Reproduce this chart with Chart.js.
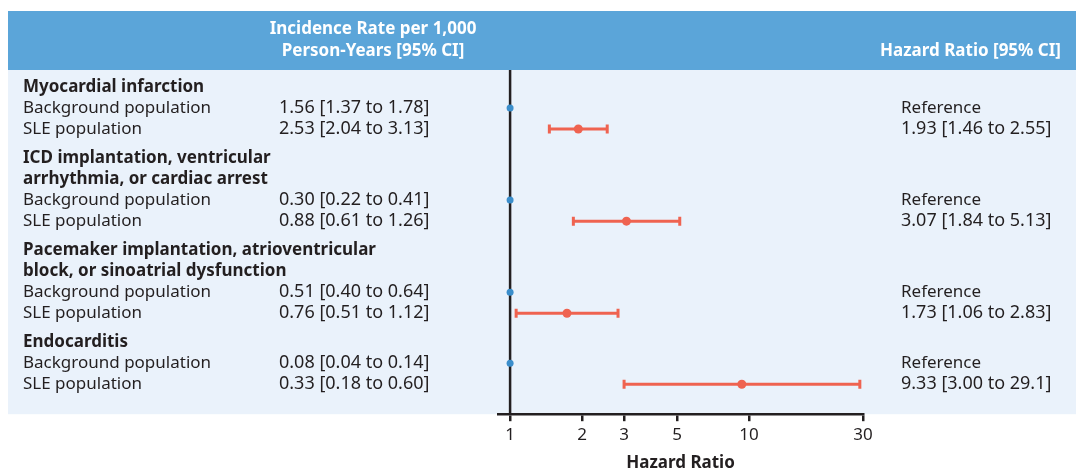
<!DOCTYPE html>
<html>
<head>
<meta charset="utf-8">
<script src="https://cdn.jsdelivr.net/npm/chart.js@4.4.1/dist/chart.umd.min.js"></script>
<style>
html, body { margin: 0; padding: 0; background: #fff; }
#wrap { position: relative; width: 1076px; height: 474px; }
</style>
</head>
<body>
<div id="wrap"><canvas id="forestCanvas"></canvas></div>
<script>
// outcome labels (one entry per text line)
const outcomes = [
    ['Myocardial infarction'],
    ['ICD implantation, ventricular', 'arrhythmia, or cardiac arrest'],
    ['Pacemaker implantation, atrioventricular', 'block, or sinoatrial dysfunction'],
    ['Endocarditis']
];
const groups = ['Background population', 'SLE population'];

// incidence rate per 1,000 person-years [95% CI]
const bgRate  = [1.56, 0.30, 0.51, 0.08];
const bgLo    = [1.37, 0.22, 0.40, 0.04];
const bgHi    = [1.78, 0.41, 0.64, 0.14];
const sleRate = [2.53, 0.88, 0.76, 0.33];
const sleLo   = [2.04, 0.61, 0.51, 0.18];
const sleHi   = [3.13, 1.26, 1.12, 0.60];

// hazard ratio [95% CI], background population = reference (1)
const hr   = [1.93, 3.07, 1.73, 9.33];
const hrLo = [1.46, 1.84, 1.06, 3.00];
const hrHi = [2.55, 5.13, 2.83, 29.1];
const refHR = 1;

const xTicks = [1, 2, 3, 5, 10, 30];

const FONT = '"Noto Sans", sans-serif';
const INK = '#231F20';
const RED = '#EF6350';
const BLUE = '#3B8ECB';

// row layout in "line" units
let pos = 0.8;
const headY = [], bgY = [], sleY = [];
outcomes.forEach(function (lines, i) {
    if (i > 0) pos += 0.37;
    headY.push(lines.map(function (_, k) { return pos + k; }));
    pos += lines.length;
    bgY.push(pos); pos += 1;
    sleY.push(pos); pos += 1;
});

let datasets = [];
// CI whiskers
for (let i = 0; i < hr.length; i++) {
    datasets.push({
        type: 'line',
        data: [{x: hrLo[i], y: sleY[i]}, {x: hrHi[i], y: sleY[i]}],
        borderColor: RED,
        borderWidth: 3,
        pointStyle: 'line',
        rotation: 90,
        pointRadius: 4.5,
        pointBorderWidth: 3,
        pointBorderColor: RED,
        pointBackgroundColor: RED
    });
}
// SLE estimates
datasets.push({
    type: 'scatter',
    data: hr.map(function (v, i) { return {x: v, y: sleY[i]}; }),
    pointRadius: 4.5,
    backgroundColor: RED,
    borderColor: RED,
    borderWidth: 0
});
// reference points
datasets.push({
    type: 'scatter',
    data: bgY.map(function (y) { return {x: refHR, y: y}; }),
    pointRadius: 3.5,
    backgroundColor: BLUE,
    borderColor: BLUE,
    borderWidth: 0
});

function fmtRate(v, lo, hi) { return v.toFixed(2) + ' [' + lo.toFixed(2) + ' to ' + hi.toFixed(2) + ']'; }
function fmtHR(v, lo, hi) { return v.toPrecision(3) + ' [' + lo.toPrecision(3) + ' to ' + hi.toPrecision(3) + ']'; }

const tablePlugin = {
    id: 'tablePlugin',
    beforeDraw: function (chart) {
        let c = chart.ctx, a = chart.chartArea;
        c.save();
        c.fillStyle = '#fff';
        c.fillRect(0, 0, chart.width, chart.height);
        c.fillStyle = '#5BA5D9';
        c.fillRect(8, 11, chart.width - 8, a.top - 11);
        c.fillStyle = '#EAF2FB';
        c.fillRect(8, a.top, chart.width - 8, a.bottom - a.top);
        c.restore();
    },
    beforeDatasetsDraw: function (chart) {
        let c = chart.ctx, a = chart.chartArea;
        let x = chart.scales.x.getPixelForValue(refHR);
        c.save();
        c.strokeStyle = INK;
        c.lineWidth = 2.5;
        c.beginPath();
        c.moveTo(x, a.top);
        c.lineTo(x, a.bottom);
        c.stroke();
        c.restore();
    },
    afterDraw: function (chart) {
        let c = chart.ctx, ys = chart.scales.y;
        c.save();
        c.textBaseline = 'middle';
        // header
        c.fillStyle = '#fff';
        c.font = 'bold 17px ' + FONT;
        c.textAlign = 'center';
        c.fillText('Incidence Rate per 1,000', 373, 29);
        c.fillText('Person-Years [95% CI]', 373, 51);
        c.textAlign = 'right';
        c.fillText('Hazard Ratio [95% CI]', 1061, 51);
        // rows
        c.textAlign = 'left';
        c.fillStyle = INK;
        for (let i = 0; i < outcomes.length; i++) {
            c.font = 'bold 17px ' + FONT;
            outcomes[i].forEach(function (t, k) { c.fillText(t, 23, ys.getPixelForValue(headY[i][k])); });
            let yb = ys.getPixelForValue(bgY[i]), yl = ys.getPixelForValue(sleY[i]);
            c.font = '17px ' + FONT;
            c.fillText(groups[0], 23, yb);
            c.fillText(groups[1], 23, yl);
            c.fillText('Reference', 901, yb);
            c.font = '18px ' + FONT;
            c.fillText(fmtRate(bgRate[i], bgLo[i], bgHi[i]), 279, yb);
            c.fillText(fmtRate(sleRate[i], sleLo[i], sleHi[i]), 279, yl);
            c.fillText(fmtHR(hr[i], hrLo[i], hrHi[i]), 901, yl);
        }
        c.restore();
    }
};

let ctx = document.getElementById('forestCanvas').getContext('2d');
window.forestChart = new Chart(ctx, {
    type: 'scatter',
    data: {datasets: datasets},
    plugins: [tablePlugin],
    options: {
        responsive: true,
        maintainAspectRatio: false,
        animation: false,
        events: [],
        layout: {padding: {left: 498, right: 213, top: 70, bottom: 1}},
        plugins: {legend: {display: false}, tooltip: {enabled: false}},
        scales: {
            x: {
                type: 'logarithmic',
                min: 0.89,
                max: 30,
                afterBuildTicks: function (s) { s.ticks = xTicks.map(function (v) { return {value: v}; }); },
                border: {display: true, color: INK, width: 2.5},
                grid: {display: true, drawOnChartArea: false, drawTicks: true, tickLength: 7, color: INK, lineWidth: 2.5},
                ticks: {color: INK, font: {family: FONT, size: 17}, padding: 4, autoSkip: false, maxRotation: 0,
                        callback: function (v) { return String(v); }},
                title: {display: true, text: 'Hazard Ratio', color: INK, font: {family: FONT, size: 17, weight: 'bold'}, padding: {top: 3, bottom: 0}}
            },
            y: {
                type: 'linear',
                display: false,
                reverse: true,
                min: 0,
                max: 16.33
            }
        }
    }
});
</script>
</body>
</html>
